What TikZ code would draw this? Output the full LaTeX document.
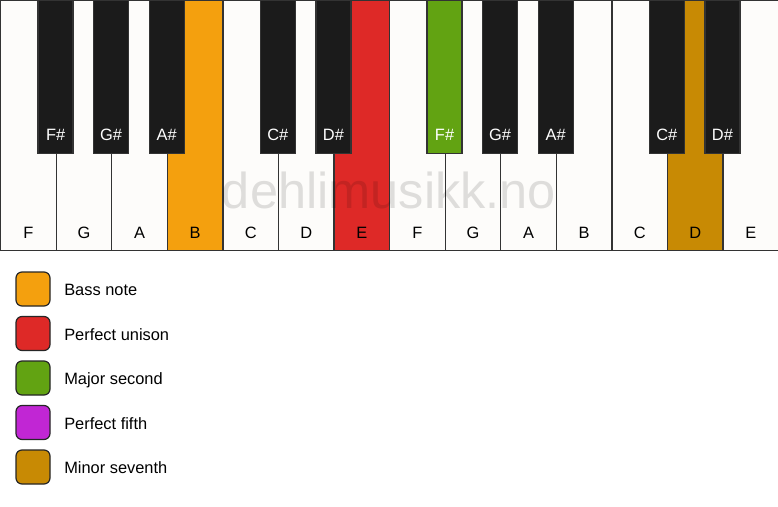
\documentclass[tikz,border=0pt]{standalone}
\usepackage{fontspec}
\setmainfont{Liberation Sans}
\usetikzlibrary{positioning}
\definecolor{keywhite}{RGB}{253,252,250}
\definecolor{keyblack}{RGB}{27,27,27}
\definecolor{bassnote}{RGB}{244,160,14}
\definecolor{unison}{RGB}{222,41,39}
\definecolor{second}{RGB}{98,163,18}
\definecolor{fifth}{RGB}{193,38,212}
\definecolor{seventh}{RGB}{200,138,4}
\tikzstyle{whitekey}=[draw=black!80, line width=1.3pt, fill=keywhite,
  minimum width=55.57pt, minimum height=250pt, inner sep=0pt, anchor=north west]
\tikzstyle{blackkey}=[whitekey, fill=keyblack, minimum width=35pt,
  minimum height=153pt, anchor=north]
\tikzstyle{keyname}=[font=\fontsize{16.4}{16}\selectfont, inner sep=0pt, anchor=base]
\tikzstyle{sharpname}=[keyname, text=white]
\tikzstyle{swatch}=[draw=black!85, line width=1.2pt, rounded corners=6pt,
  minimum size=34pt, inner sep=0pt]
\tikzstyle{legendtext}=[keyname, anchor=base west]
% white key: name, position, fill, letter
\newcommand{\whitekey}[4]{%
  \node (#1) [whitekey, fill=#3] at (#2*55.57,0) {};
  \node [keyname] at ([yshift=13pt]#1.south) {#4};}
% black key: name, position, fill, letter
\newcommand{\blackkey}[4]{%
  \node (#1) [blackkey, fill=#3] at (#2*55.57,0) {};
  \node [sharpname] at ([yshift=14pt]#1.south) {#4};}
% legend entry: name, row, fill, text
\newcommand{\legendrow}[4]{%
  \node (#1) [swatch, fill=#3] at (33,289+#2*44.5) {};
  \node [legendtext] at ([xshift=13.5pt,yshift=-6.5pt]#1.east) {#4};}

\begin{document}
\begin{tikzpicture}[x=1pt,y=-1pt]
  \useasboundingbox[fill=white] (0,0) rectangle (778,506);

  % Draw the white keys
  \whitekey{F1}{0}{keywhite}{F}
  \whitekey{G1}{1}{keywhite}{G}
  \whitekey{A1}{2}{keywhite}{A}
  \whitekey{B1}{3}{bassnote}{B}
  \whitekey{C1}{4}{keywhite}{C}
  \whitekey{D1}{5}{keywhite}{D}
  \whitekey{E1}{6}{unison}{E}
  \whitekey{F2}{7}{keywhite}{F}
  \whitekey{G2}{8}{keywhite}{G}
  \whitekey{A2}{9}{keywhite}{A}
  \whitekey{B2}{10}{keywhite}{B}
  \whitekey{C2}{11}{keywhite}{C}
  \whitekey{D2}{12}{seventh}{D}
  \whitekey{E2}{13}{keywhite}{E}

  % watermark
  \node (MARK) [font=\fontsize{50.5}{50}\selectfont, text=black, opacity=0.12,
    inner sep=0pt, anchor=base] at (389,208) {dehlimusikk.no};

  % Draw the black keys
  \blackkey{FS1}{1}{keyblack}{F\#}
  \blackkey{GS1}{2}{keyblack}{G\#}
  \blackkey{AS1}{3}{keyblack}{A\#}
  \blackkey{CS1}{5}{keyblack}{C\#}
  \blackkey{DS1}{6}{keyblack}{D\#}
  \blackkey{FS2}{8}{second}{F\#}
  \blackkey{GS2}{9}{keyblack}{G\#}
  \blackkey{AS2}{10}{keyblack}{A\#}
  \blackkey{CS2}{12}{keyblack}{C\#}
  \blackkey{DS2}{13}{keyblack}{D\#}

  % legend
  \legendrow{BASS}{0}{bassnote}{Bass note}
  \legendrow{UNISON}{1}{unison}{Perfect unison}
  \legendrow{SECOND}{2}{second}{Major second}
  \legendrow{FIFTH}{3}{fifth}{Perfect fifth}
  \legendrow{SEVENTH}{4}{seventh}{Minor seventh}

\end{tikzpicture}
\end{document}
